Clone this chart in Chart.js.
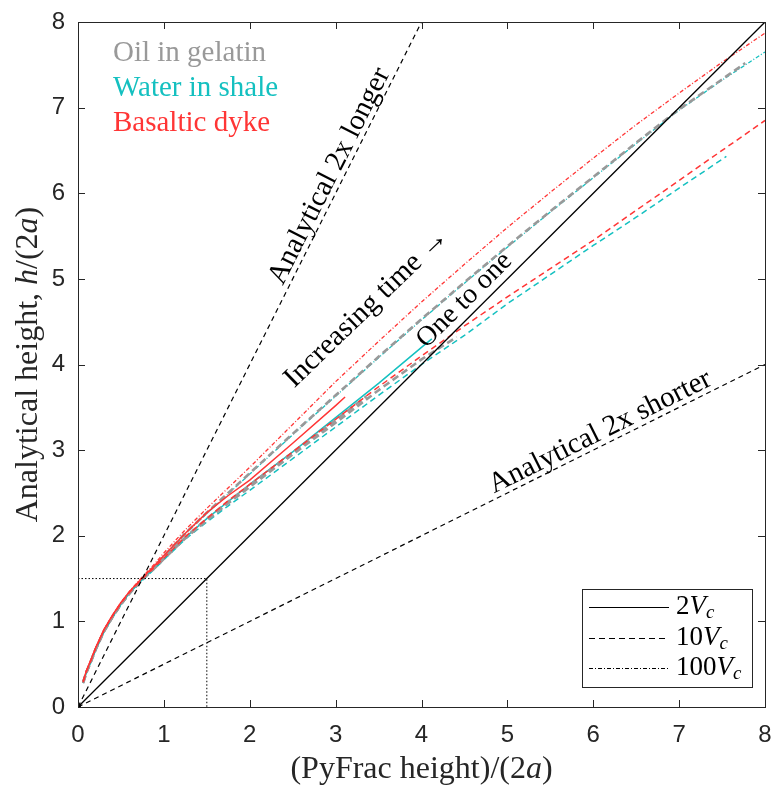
<!DOCTYPE html>
<html>
<head>
<meta charset="utf-8">
<script src="https://cdn.jsdelivr.net/npm/chart.js@4"></script>
<style>
  body { margin: 0; background: #fff; }
  canvas { display: block; }
</style>
</head>
<body>
<canvas id="chart" width="775" height="785"></canvas>
<script>
// tick values on both axes
var ticks = [0, 1, 2, 3, 4, 5, 6, 7, 8];

// fluids and colours
var fluids = ["Oil in gelatin", "Water in shale", "Basaltic dyke"];
var fluidColors = ["#999999", "#14c0c0", "#ff3535"];
var speedLabels = ["2", "10", "100"];

// Oil in gelatin (grey)
var gray2x   = [0.06,0.1,0.15,0.2,0.3,0.4,0.5,0.6,0.75,0.9,1.0,1.25,1.5,1.75,2.0,2.5,3.0,3.36];
var gray2y   = [0.29,0.41,0.53,0.66,0.88,1.05,1.2,1.33,1.49,1.63,1.74,1.98,2.2,2.4,2.59,2.97,3.35,3.63];
var gray10x  = [0.06,0.1,0.15,0.2,0.3,0.4,0.5,0.6,0.75,0.9,1.0,1.25,1.5,1.75,2.0,2.5,3.0,3.5,4.0,4.41];
var gray10y  = [0.29,0.41,0.53,0.66,0.88,1.05,1.2,1.33,1.49,1.63,1.73,1.97,2.18,2.38,2.57,2.95,3.32,3.7,4.06,4.32];
var gray100x = [0.06,0.1,0.15,0.2,0.3,0.4,0.5,0.6,0.75,0.9,1.0,1.25,1.5,1.75,2.0,2.5,3.0,3.5,4.0,4.5,5.0,5.5,6.0,6.5,7.0,7.5,7.77];
var gray100y = [0.28,0.41,0.53,0.66,0.88,1.05,1.2,1.33,1.5,1.65,1.76,2.03,2.27,2.5,2.73,3.19,3.64,4.09,4.53,4.96,5.38,5.79,6.19,6.59,6.98,7.33,7.52];

// Water in shale (cyan)
var cyan2x   = [0.06,0.1,0.15,0.2,0.3,0.4,0.5,0.6,0.75,0.9,1.0,1.25,1.5,1.75,2.0,2.5,3.0,3.5,4.0,4.12];
var cyan2y   = [0.28,0.41,0.53,0.66,0.88,1.05,1.2,1.33,1.49,1.63,1.73,1.98,2.2,2.4,2.6,2.98,3.38,3.78,4.2,4.3];
var cyan10x  = [0.06,0.1,0.15,0.2,0.3,0.4,0.5,0.6,0.75,0.9,1.0,1.25,1.5,1.75,2.0,2.5,3.0,3.5,4.0,4.5,5.0,5.5,6.0,6.5,7.0,7.55];
var cyan10y  = [0.28,0.4,0.52,0.65,0.87,1.04,1.19,1.32,1.48,1.62,1.72,1.96,2.16,2.35,2.53,2.9,3.27,3.64,4.0,4.34,4.71,5.05,5.39,5.72,6.06,6.43];
var cyan100x = [0.06,0.1,0.15,0.2,0.3,0.4,0.5,0.6,0.75,0.9,1.0,1.25,1.5,1.75,2.0,2.5,3.0,3.5,4.0,4.5,5.0,5.5,6.0,6.5,7.0,7.5,8.0];
var cyan100y = [0.28,0.41,0.53,0.66,0.88,1.05,1.2,1.33,1.5,1.65,1.76,2.02,2.26,2.49,2.72,3.18,3.63,4.08,4.52,4.95,5.37,5.78,6.18,6.58,6.97,7.32,7.65];

// Basaltic dyke (red)
var red2x    = [0.06,0.1,0.15,0.2,0.3,0.4,0.5,0.6,0.75,0.9,1.0,1.25,1.5,1.75,2.0,2.5,3.0,3.11];
var red2y    = [0.3,0.43,0.55,0.68,0.9,1.07,1.22,1.35,1.51,1.66,1.77,2.03,2.27,2.47,2.65,3.08,3.52,3.62];
var red10x   = [0.06,0.1,0.15,0.2,0.3,0.4,0.5,0.6,0.75,0.9,1.0,1.25,1.5,1.75,2.0,2.5,3.0,3.5,4.0,4.5,5.0,5.5,6.0,6.5,7.0,7.5,8.0];
var red10y   = [0.29,0.42,0.54,0.67,0.89,1.06,1.21,1.34,1.5,1.64,1.74,1.99,2.2,2.41,2.6,2.98,3.36,3.74,4.1,4.45,4.79,5.12,5.45,5.8,6.15,6.5,6.85];
var red100x  = [0.06,0.1,0.15,0.2,0.3,0.4,0.5,0.6,0.75,0.9,1.0,1.25,1.5,1.75,2.0,2.5,3.0,3.5,4.0,4.5,5.0,5.5,6.0,6.5,7.0,7.5,8.0];
var red100y  = [0.3,0.43,0.55,0.68,0.9,1.07,1.22,1.35,1.52,1.68,1.8,2.07,2.32,2.56,2.8,3.3,3.8,4.27,4.73,5.17,5.6,6.01,6.41,6.8,7.17,7.53,7.87];

// reference lines (analytical)
var oneX = [0, 8],   oneY = [0, 8];
var longX = [0, 4],  longY = [0, 8];
var shortX = [0, 8], shortY = [0, 4];
var boxX = [0, 1.5, 1.5], boxY = [1.5, 1.5, 0];

var dashes = { "2": [], "10": [6, 4], "100": [4, 2, 1, 2] };
var grayDash = [7, 4];

function pts(xs, ys) {
  var out = [];
  for (var i = 0; i < xs.length; i++) out.push({ x: xs[i], y: ys[i] });
  return out;
}

function curve(xs, ys, color, dash, width, order) {
  return {
    data: pts(xs, ys),
    borderColor: color,
    borderWidth: width,
    borderDash: dash,
    showLine: true,
    pointRadius: 0,
    fill: false,
    order: order
  };
}

function refLine(xs, ys, dash, width) {
  return {
    data: pts(xs, ys),
    borderColor: "#000",
    borderWidth: width,
    borderDash: dash,
    showLine: true,
    pointRadius: 0,
    order: 0
  };
}

// lower order is drawn on top
var datasets = [
  refLine(oneX, oneY, [], 1.3),
  refLine(longX, longY, [5, 4], 1.2),
  refLine(shortX, shortY, [5, 4], 1.2),
  refLine(boxX, boxY, [1.5, 2], 1),
  { data: [{ x: 0, y: 0 }], pointRadius: 3, pointBackgroundColor: "#000", pointBorderWidth: 0, showLine: false, order: 0 },

  curve(red100x, red100y, fluidColors[2], dashes["100"], 1.3, 1),
  curve(red10x, red10y, fluidColors[2], dashes["10"], 1.5, 1),
  curve(red2x, red2y, fluidColors[2], dashes["2"], 1.5, 1),
  curve(gray100x, gray100y, fluidColors[0], grayDash, 2.6, 2),
  curve(gray10x, gray10y, fluidColors[0], grayDash, 2.6, 2),
  curve(gray2x, gray2y, fluidColors[0], grayDash, 2.6, 2),
  curve(cyan100x, cyan100y, fluidColors[1], dashes["100"], 1.3, 3),
  curve(cyan10x, cyan10y, fluidColors[1], dashes["10"], 1.5, 3),
  curve(cyan2x, cyan2y, fluidColors[1], dashes["2"], 1.5, 3)
];

var serif = '"Liberation Serif", "DejaVu Serif", serif';

// draw a string made of parts, some italic / subscript
function richText(ctx, parts, x, y, size, align) {
  var w = 0, i;
  for (i = 0; i < parts.length; i++) {
    var p = parts[i];
    var s = p.sub ? size * 0.7 : size;
    ctx.font = (p.it ? "italic " : "") + s + "px " + serif;
    p.w = ctx.measureText(p.t).width;
    w += p.w;
  }
  var cx = align === "center" ? x - w / 2 : x;
  for (i = 0; i < parts.length; i++) {
    var q = parts[i];
    var s2 = q.sub ? size * 0.7 : size;
    ctx.font = (q.it ? "italic " : "") + s2 + "px " + serif;
    ctx.fillText(q.t, cx, q.sub ? y + size * 0.25 : y);
    cx += q.w;
  }
}

function rotText(ctx, text, x, y, angle, size) {
  ctx.save();
  ctx.translate(x, y);
  ctx.rotate(angle * Math.PI / 180);
  ctx.font = size + "px " + serif;
  ctx.textAlign = "center";
  ctx.textBaseline = "middle";
  ctx.fillText(text, 0, 0);
  ctx.restore();
}

var decor = {
  id: "decor",
  afterDraw: function(chart) {
    var ctx = chart.ctx, a = chart.chartArea;
    var xs = chart.scales.x, ys = chart.scales.y;
    ctx.save();

    // axes box and inward ticks
    ctx.strokeStyle = "#262626";
    ctx.lineWidth = 1;
    ctx.setLineDash([]);
    ctx.strokeRect(a.left + 0.5, a.top + 0.5, a.right - a.left, a.bottom - a.top);
    ctx.beginPath();
    ticks.forEach(function(t) {
      var px = Math.round(xs.getPixelForValue(t)) + 0.5;
      ctx.moveTo(px, a.bottom); ctx.lineTo(px, a.bottom - 7);
      ctx.moveTo(px, a.top); ctx.lineTo(px, a.top + 7);
      var py = Math.round(ys.getPixelForValue(t)) + 0.5;
      ctx.moveTo(a.left, py); ctx.lineTo(a.left + 7, py);
      ctx.moveTo(a.right, py); ctx.lineTo(a.right - 7, py);
    });
    ctx.stroke();

    // axis titles
    ctx.fillStyle = "#262626";
    ctx.textBaseline = "middle";
    ctx.textAlign = "left";
    richText(ctx, [{ t: "(PyFrac height)/(2" }, { t: "a", it: true }, { t: ")" }],
      (a.left + a.right) / 2, a.bottom + 63, 32, "center");
    ctx.save();
    ctx.translate(29, (a.top + a.bottom) / 2);
    ctx.rotate(-Math.PI / 2);
    richText(ctx, [{ t: "Analytical height, " }, { t: "h", it: true }, { t: "/(2" }, { t: "a", it: true }, { t: ")" }],
      0, 0, 32, "center");
    ctx.restore();

    // fluid legend, top left
    ctx.font = "29px " + serif;
    ctx.textAlign = "left";
    for (var i = 0; i < fluids.length; i++) {
      ctx.fillStyle = fluidColors[i];
      ctx.fillText(fluids[i], a.left + 35, a.top + 31 + i * 35);
    }

    // annotations along the lines
    ctx.fillStyle = "#000";
    rotText(ctx, "Analytical 2x longer", xs.getPixelForValue(2.93), ys.getPixelForValue(6.2), -63.3, 29);
    rotText(ctx, "Increasing time \u2192", xs.getPixelForValue(3.36), ys.getPixelForValue(4.66), -44, 29);
    rotText(ctx, "One to one", xs.getPixelForValue(4.5), ys.getPixelForValue(4.75), -45, 28);
    rotText(ctx, "Analytical 2x shorter", xs.getPixelForValue(6.08), ys.getPixelForValue(3.21), -26.5, 29);

    // line style legend, bottom right
    var bl = a.right - 183, bt = a.bottom - 118, bw = 170, bh = 98;
    ctx.fillStyle = "#fff";
    ctx.fillRect(bl, bt, bw, bh);
    ctx.strokeStyle = "#262626";
    ctx.lineWidth = 1;
    ctx.strokeRect(bl + 0.5, bt + 0.5, bw, bh);
    ctx.strokeStyle = "#000";
    ctx.fillStyle = "#000";
    for (var k = 0; k < speedLabels.length; k++) {
      var ly = Math.round(bt + 18 + k * 30.5) + 0.5;
      ctx.setLineDash(dashes[speedLabels[k]]);
      ctx.lineWidth = 1;
      ctx.beginPath();
      ctx.moveTo(bl + 7, ly);
      ctx.lineTo(bl + 87, ly);
      ctx.stroke();
      ctx.setLineDash([]);
      richText(ctx, [{ t: speedLabels[k] }, { t: "V", it: true }, { t: "c", it: true, sub: true }],
        bl + 94, ly - 1, 27, "left");
    }
    ctx.restore();
  }
};

new Chart(document.getElementById("chart"), {
  type: "scatter",
  data: { datasets: datasets },
  options: {
    responsive: false,
    animation: false,
    layout: { autoPadding: false, padding: { top: 22, right: 10, left: 0, bottom: 0 } },
    plugins: { legend: { display: false }, tooltip: { enabled: false } },
    scales: {
      x: {
        type: "linear", min: 0, max: 8,
        afterBuildTicks: function(s) { s.ticks = ticks.map(function(v) { return { value: v }; }); },
        afterFit: function(s) { s.height = 78; s.paddingLeft = 0; s.paddingRight = 0; },
        grid: { display: false, drawTicks: false },
        border: { display: false },
        ticks: { padding: 14, color: "#262626", font: { family: '"Liberation Sans", Arial, sans-serif', size: 24 } }
      },
      y: {
        type: "linear", min: 0, max: 8,
        afterBuildTicks: function(s) { s.ticks = ticks.map(function(v) { return { value: v }; }); },
        afterFit: function(s) { s.width = 78; s.paddingTop = 0; s.paddingBottom = 0; },
        grid: { display: false, drawTicks: false },
        border: { display: false },
        ticks: { padding: 13, color: "#262626", font: { family: '"Liberation Sans", Arial, sans-serif', size: 24 } }
      }
    }
  },
  plugins: [decor]
});
</script>
</body>
</html>
